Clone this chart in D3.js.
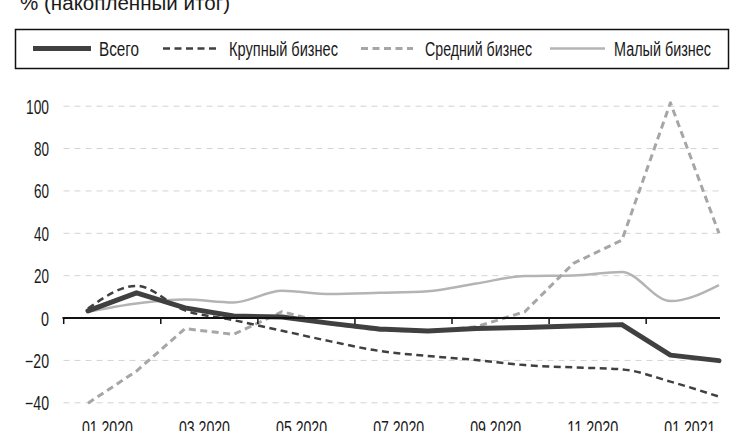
<!DOCTYPE html>
<html>
<head>
<meta charset="utf-8">
<script src="https://cdn.jsdelivr.net/npm/d3@7"></script>
<style>
  html, body { margin: 0; padding: 0; background: #fff; }
  svg { display: block; }
  text { font-family: "Liberation Sans", Arial, sans-serif; fill: #1a1a1a; }
</style>
</head>
<body>
<svg id="chart" width="732" height="431"></svg>
<script>
const categories = ["01.2020","02.2020","03.2020","04.2020","05.2020","06.2020","07.2020","08.2020","09.2020","10.2020","11.2020","12.2020","01.2021","02.2021"];
const tickLabels = ["01.2020","03.2020","05.2020","07.2020","09.2020","11.2020","01.2021"];
const yTicks = [-40, -20, 0, 20, 40, 60, 80, 100];

const total  = [3.4, 11.9, 4.8, 1.0, 0.5, -2.5, -5.2, -6.1, -4.9, -4.4, -3.8, -3.1, -17.5, -20.1];
const large  = [4.5, 15.2, 3.6, -1.0, -6.0, -11.0, -15.5, -17.9, -19.8, -22.2, -23.3, -24.2, -30.0, -37.1];
const medium = [-40.2, -25.0, -5.0, -7.7, 3.0, -2.8, -5.7, -6.3, -4.1, 3.0, 25.8, 36.8, 101.6, 40.0];
const small  = [3.0, 6.9, 8.8, 7.4, 12.9, 11.3, 11.9, 12.7, 16.3, 19.8, 20.1, 21.7, 8.0, 15.6];

const seriesNames = ["Всего", "Крупный бизнес", "Средний бизнес", "Малый бизнес"];
const title = "% (накопленный итог)";

const svg = d3.select("#chart");

const plotLeft = 63.5, plotRight = 720;
const x = d3.scaleBand().domain(categories).range([63.7, 63.7 + 48.54 * categories.length]).padding(0);
const cx = c => x(c) + x.bandwidth() / 2;
const y = d3.scaleLinear().domain([-40, 100]).range([402.8, 106.2]);

// narrow text helper: squeeze glyphs horizontally to a target width
function narrow(sel, widthFn) {
  sel.each(function(d, i) {
    const w = widthFn(d, i, this);
    if (w) d3.select(this).attr("textLength", w).attr("lengthAdjust", "spacingAndGlyphs");
  });
}

// title
svg.append("text").attr("x", 20).attr("y", 9.5).attr("font-size", 20).text(title)
  .call(narrow, () => 210);

// legend
const lg = svg.append("g");
lg.append("rect").attr("x", 15.5).attr("y", 29.5).attr("width", 713).attr("height", 39)
  .attr("fill", "#fff").attr("stroke", "#111").attr("stroke-width", 1.5);

const styles = [
  { color: "#404040", width: 5, dash: null, curve: d3.curveLinear },
  { color: "#404040", width: 2.5, dash: "7,4.5", curve: d3.curveMonotoneX },
  { color: "#a6a6a6", width: 3, dash: "7,4.5", curve: d3.curveLinear },
  { color: "#b4b4b4", width: 2.5, dash: null, curve: d3.curveMonotoneX }
];
const legendPos = [
  { x1: 33, x2: 91, tx: 99, w: 40 },
  { x1: 163, x2: 219, tx: 229, w: 109 },
  { x1: 361, x2: 413, tx: 425, w: 107 },
  { x1: 550, x2: 605, tx: 614, w: 97 }
];
seriesNames.forEach((n, i) => {
  const s = styles[i], p = legendPos[i];
  lg.append("line").attr("x1", p.x1).attr("x2", p.x2).attr("y1", 48.5).attr("y2", 48.5)
    .attr("stroke", s.color).attr("stroke-width", s.width).attr("stroke-dasharray", s.dash);
  lg.append("text").attr("x", p.tx).attr("y", 56).attr("font-size", 19.5).text(n)
    .call(narrow, () => p.w);
});

// grid
const grid = svg.append("g");
grid.selectAll("line").data(yTicks.filter(v => v !== 0)).join("line")
  .attr("x1", plotLeft).attr("x2", plotRight)
  .attr("y1", d => y(d)).attr("y2", d => y(d))
  .attr("stroke", "#d3d3d3").attr("stroke-width", 1).attr("stroke-dasharray", "6,5");

// y axis labels
const yAxis = d3.axisLeft(y).tickValues(yTicks).tickSize(0).tickPadding(0)
  .tickFormat(d => d < 0 ? "\u2212" + Math.abs(d) : String(d));
const ya = svg.append("g").attr("transform", "translate(49,0)").call(yAxis);
ya.select(".domain").remove();
ya.selectAll("text").attr("font-size", 19.5).attr("font-family", null).attr("fill", "#1a1a1a").attr("dy", "0.36em")
  .call(narrow, d => d === 0 ? 8 : (d < 0 ? 24 : (d >= 100 ? 23 : 15)));

// series lines
const data = [total, large, medium, small];
const order = [3, 2, 1, 0];
order.forEach(i => {
  const s = styles[i];
  const line = d3.line().x((d, k) => cx(categories[k])).y(d => y(d)).curve(s.curve);
  svg.append("path").datum(data[i]).attr("d", line)
    .attr("fill", "none").attr("stroke", s.color).attr("stroke-width", s.width)
    .attr("stroke-dasharray", s.dash).attr("stroke-linejoin", "round").attr("stroke-linecap", i === 0 ? "round" : "butt");
});

// x axis
const xa = svg.append("g");
xa.append("line").attr("x1", plotLeft - 1).attr("x2", plotRight).attr("y1", y(0)).attr("y2", y(0))
  .attr("stroke", "#111").attr("stroke-width", 2);
const tickCats = categories.filter((c, i) => i % 2 === 0);
xa.selectAll(".tk").data(tickCats).join("line").attr("class", "tk")
  .attr("x1", d => x(d)).attr("x2", d => x(d))
  .attr("y1", y(0)).attr("y2", y(0) + 6)
  .attr("stroke", "#111").attr("stroke-width", 1.5);
xa.selectAll(".lb").data(tickLabels).join("text").attr("class", "lb")
  .attr("x", d => x(d) + x.bandwidth() * 0.9).attr("y", 434.5)
  .attr("text-anchor", "middle").attr("font-size", 19.5).text(d => d)
  .call(narrow, () => 51);
</script>
</body>
</html>
